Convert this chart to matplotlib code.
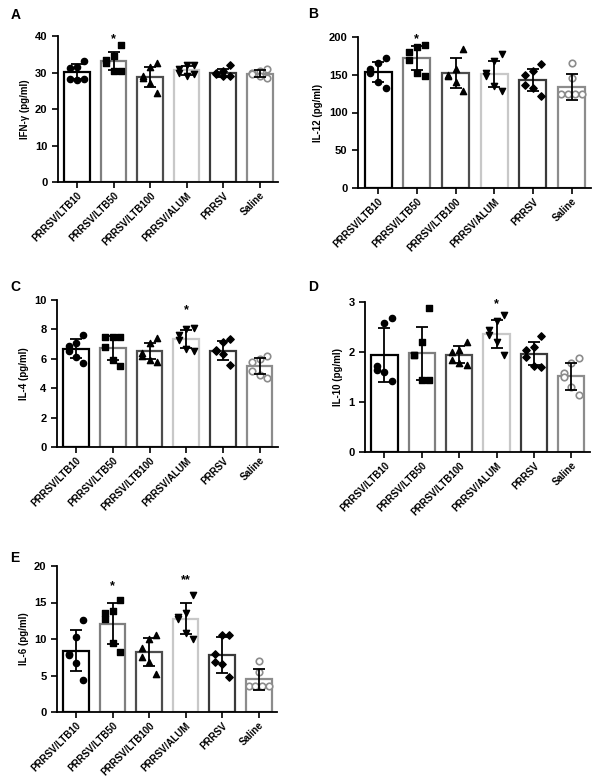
import numpy as np
import matplotlib
matplotlib.use("Agg")
import matplotlib.pyplot as plt

plt.rcParams['font.family'] = ['Liberation Sans', 'DejaVu Sans']
plt.rcParams['font.weight'] = 'bold'

groups = ['PRRSV/LTB10', 'PRRSV/LTB50', 'PRRSV/LTB100', 'PRRSV/ALUM', 'PRRSV', 'Saline']

# panel A, IFN-gamma
ifn_mean = [30.2, 33.2, 28.8, 30.6, 29.9, 29.7]
ifn_sd = [2.0, 2.4, 2.7, 1.3, 1.1, 0.9]
ifn_pts = [[33.2, 31.6, 31.1, 28.1, 27.9, 28.1],
           [37.5, 34.5, 33.5, 32.5, 30.5, 30.5],
           [32.5, 31.5, 29.0, 28.5, 27.0, 24.5],
           [32.0, 32.0, 31.0, 30.0, 29.0, 29.5],
           [32.0, 30.5, 30.0, 29.5, 29.0, 29.0],
           [31.0, 30.5, 30.0, 29.5, 29.0, 28.5]]

# panel B, IL-12
il12_mean = [154, 172, 152, 151, 143, 134]
il12_sd = [13, 16, 20, 17, 15, 17]
il12_pts = [[172, 165, 157, 152, 140, 133],
            [190, 187, 180, 170, 152, 148],
            [184, 158, 150, 148, 140, 128],
            [177, 168, 152, 148, 135, 128],
            [164, 155, 150, 137, 133, 122],
            [165, 146, 125, 125, 125, 125]]

# panel C, IL-4
il4_mean = [6.7, 6.75, 6.55, 7.35, 6.55, 5.5]
il4_sd = [0.65, 0.8, 0.55, 0.6, 0.65, 0.55]
il4_pts = [[7.6, 7.1, 6.9, 6.5, 6.1, 5.7],
           [7.5, 7.5, 7.5, 6.8, 5.9, 5.5],
           [7.4, 7.1, 6.4, 6.2, 5.9, 5.8],
           [8.1, 8.0, 7.6, 7.3, 6.7, 6.5],
           [7.35, 7.15, 6.6, 6.5, 6.3, 5.6],
           [6.2, 6.0, 5.8, 5.2, 4.9, 4.7]]

# panel D, IL-10
il10_mean = [1.95, 1.98, 1.95, 2.37, 1.97, 1.52]
il10_sd = [0.54, 0.53, 0.17, 0.28, 0.23, 0.27]
il10_pts = [[2.69, 2.58, 1.72, 1.65, 1.60, 1.43],
            [2.88, 2.20, 1.95, 1.95, 1.45, 1.45],
            [2.20, 2.05, 2.00, 1.85, 1.78, 1.75],
            [2.75, 2.62, 2.45, 2.35, 2.20, 1.95],
            [2.32, 2.10, 2.05, 1.90, 1.72, 1.70],
            [1.88, 1.78, 1.58, 1.50, 1.30, 1.15]]

# panel E, IL-6
il6_mean = [8.4, 12.1, 8.2, 12.8, 7.8, 4.5]
il6_sd = [2.8, 2.8, 1.9, 2.1, 2.5, 1.45]
il6_pts = [[12.6, 10.3, 8.0, 7.8, 6.7, 4.4],
           [15.3, 13.9, 13.6, 12.8, 9.4, 8.2],
           [10.5, 10.0, 8.8, 7.5, 6.8, 5.2],
           [16.0, 13.5, 13.0, 12.8, 10.8, 10.0],
           [10.5, 10.5, 8.0, 6.8, 6.6, 4.8],
           [7.0, 5.5, 3.5, 3.5, 3.5, 3.5]]

edge_colors = ['#000000', '#7f7f7f', '#4d4d4d', '#c8c8c8', '#3a3a3a', '#8c8c8c']
markers = ['o', 's', '^', 'v', 'D', 'o']
# horizontal spread of the dots inside a bar
offsets = [0.2, 0.0, -0.2, -0.2, 0.0, 0.2]
offsets_ties = [0.0, 0.0, -0.27, -0.09, 0.09, 0.27]


def draw_panel(ax, mean, sd, pts, ylabel, ymax, ystep, stars, saline_ties=False):
    x = np.arange(len(groups))
    ax.bar(x, mean, width=0.7, color='white', edgecolor=edge_colors,
           linewidth=1.6, zorder=1)
    for i in range(len(groups)):
        if i == 5:
            xs = x[i] + np.array(offsets_ties if saline_ties else offsets)
            ax.scatter(xs, pts[i], s=22, marker='o', facecolor='white',
                       edgecolor='#8c8c8c', linewidth=1.2, zorder=3)
        else:
            xs = x[i] + np.array(offsets)
            sz = 14 if markers[i] == 'D' else 20
            ax.scatter(xs, pts[i], s=sz, marker=markers[i], color='black',
                       zorder=3)
    ax.errorbar(x, mean, yerr=sd, fmt='none', ecolor='black', elinewidth=1.3,
                capsize=4, capthick=1.3, zorder=4)
    for i, s, y in stars:
        ax.text(i, y, s, ha='center', va='center', fontsize=9)
    ax.set_xlim(-0.52, 5.5)
    ax.set_ylim(0, ymax)
    ax.set_yticks(np.arange(0, ymax + ystep / 2, ystep))
    ax.set_xticks(x)
    ax.set_xticklabels(groups, rotation=45, ha='right', rotation_mode='anchor',
                       fontsize=7, fontweight='bold')
    ax.set_ylabel(ylabel, fontsize=7, fontweight='bold')
    ax.tick_params(axis='y', labelsize=8, width=1.2, length=4)
    ax.tick_params(axis='x', width=1.2, length=4, pad=2)
    for lab in ax.get_yticklabels():
        lab.set_fontweight('bold')
    ax.spines['top'].set_visible(False)
    ax.spines['right'].set_visible(False)
    ax.spines['left'].set_linewidth(1.3)
    ax.spines['bottom'].set_linewidth(1.3)


W, H = 600, 779
fig = plt.figure(figsize=(6, 7.79), dpi=100)


def add_axes(l, r, t, b):
    return fig.add_axes([l / W, 1 - b / H, (r - l) / W, (b - t) / H])


axA = add_axes(58, 278, 36, 182)
axB = add_axes(358, 591, 37, 188)
axC = add_axes(57, 278, 300, 447)
axD = add_axes(365, 590, 302, 452)
axE = add_axes(57, 277, 566, 712)

draw_panel(axA, ifn_mean, ifn_sd, ifn_pts, 'IFN-γ (pg/ml)', 40, 10, [(1, '*', 39.0)])
draw_panel(axB, il12_mean, il12_sd, il12_pts, 'IL-12 (pg/ml)', 200, 50,
           [(1, '*', 197)], saline_ties=True)
draw_panel(axC, il4_mean, il4_sd, il4_pts, 'IL-4 (pg/ml)', 10, 2, [(3, '*', 9.3)])
draw_panel(axD, il10_mean, il10_sd, il10_pts, 'IL-10 (pg/ml)', 3, 1, [(3, '*', 2.95)])
draw_panel(axE, il6_mean, il6_sd, il6_pts, 'IL-6 (pg/ml)', 20, 5,
           [(1, '*', 17.2), (3, '**', 18.0)], saline_ties=True)

for lab, (px, py) in zip('ABCDE', [(11, 15), (308, 14), (10, 287), (308, 287), (10, 558)]):
    fig.text(px / W, 1 - py / H, lab, fontsize=10, fontweight='bold',
             ha='left', va='center')

fig.savefig('out.png', dpi=100)
